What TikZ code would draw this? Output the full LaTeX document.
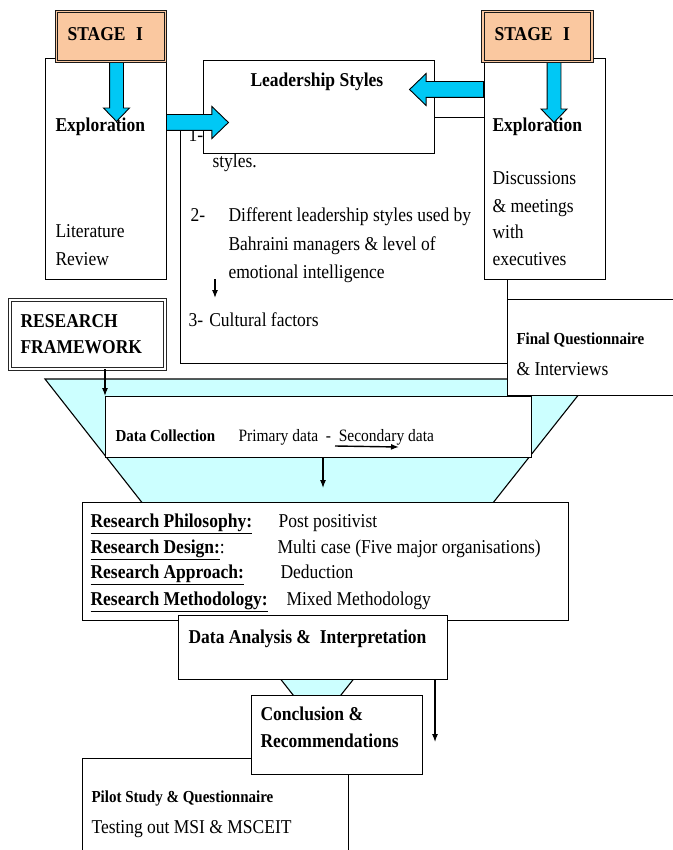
\documentclass[tikz,border=0pt]{standalone}
\usepackage{fontspec}
\setmainfont{Liberation Serif}
\usetikzlibrary{arrows,arrows.meta,shapes,positioning}

\definecolor{peach}{RGB}{250,200,160}
\definecolor{arrowblue}{RGB}{0,200,245}
\definecolor{funnelcyan}{RGB}{204,255,255}

\tikzset{
	>={Latex[length=8pt,width=6pt]},
	box/.style = {
			draw, fill=white, line width=1.1pt,
			anchor=north west, inner sep=0pt,
		},
	stagebox/.style = {
			draw=black!90, double=peach, double distance=1.4pt,
			fill=peach, line width=1pt, inner sep=0pt,
			minimum width=109pt, minimum height=50pt,
		},
	framebox/.style = {
			draw=black!85, double=white, double distance=1.6pt,
			fill=white, line width=0.9pt, inner sep=0pt,
			anchor=north west,
		},
	bluearrow/.style = {
			single arrow, draw=black, fill=arrowblue, line width=0.9pt,
			inner xsep=0pt, anchor=tail, single arrow tip angle=88,
		},
	txt/.style = {anchor=base west, inner sep=0pt, yscale=1.12,
			font=\fontsize{17.5}{21}\selectfont},
	btxt/.style = {txt, font=\fontsize{17.5}{21}\selectfont\bfseries},
	smalltxt/.style = {txt, font=\fontsize{15.5}{18}\selectfont},
	smallbtxt/.style = {txt, font=\fontsize{15}{18}\selectfont\bfseries},
}

\begin{document}
\begin{tikzpicture}[x=1pt,y=-1pt,line width=1.1pt]
			\useasboundingbox (0,0) rectangle (672,850);

			% Stage I - literature
			\node[box, minimum width=121pt, minimum height=221pt] (Exploration left) at (45,58) {};
			\node[btxt] (Exploration left title) at (55,132) {Exploration};
			\node[txt] (Literature) at (55,237) {Literature};
			\node[txt] (Review) at (55,265) {Review};
			\node[bluearrow, rotate=-90, minimum height=59pt, inner ysep=6.5pt,
				single arrow head extend=6pt] (Arrow left) at (116.5,62) {};
			\node[stagebox] (Stage left) at (111,36.5) {};
			\node[btxt] (Stage left text) at (67,41) {STAGE\hspace{0.6em}I};

			% Issues
			\node[box, minimum width=327pt, minimum height=246pt] (Issues) at (180,117) {};
			\node[txt] (Item one) at (188,142) {1-};
			\node[txt] (Item one end) at (212,168) {styles.};
			\node[txt] (Item two) at (190,222) {2-};
			\node[txt] (Item two a) at (228,222) {Different leadership styles used by};
			\node[txt] (Item two b) at (228,250) {Bahraini managers \& level of};
			\node[txt] (Item two c) at (228,278) {emotional intelligence};
			\node[txt] (Item three) at (188,326) {3-\hspace{0.35em}Cultural factors};
			\coordinate (Item arrow top) at (215,279);
			\coordinate (Item arrow end) at (215,298);
			\draw[->,draw=black] (Item arrow top) to (Item arrow end);

			\node[box, minimum width=231pt, minimum height=93pt] (Leadership Styles) at (203,60) {};
			\node[btxt] (Leadership title) at (250,87) {Leadership Styles};
			\node[bluearrow, minimum height=62pt, inner ysep=7.5pt,
				single arrow head extend=8pt] (Arrow to styles) at (166,122.5) {};

			% Stage I - executives
			\node[box, minimum width=121pt, minimum height=221pt] (Exploration right) at (484,58) {};
			\node[btxt] (Exploration right title) at (492,132) {Exploration};
			\node[txt] (Discussions) at (492,185) {Discussions};
			\node[txt] (Meetings) at (492,212) {\& meetings};
			\node[txt] (With) at (492,238) {with};
			\node[txt] (Executives) at (492,265) {executives};
			\node[bluearrow, rotate=-90, minimum height=60pt, inner ysep=6.5pt,
				single arrow head extend=6pt] (Arrow right) at (554,62) {};
			\node[bluearrow, rotate=180, minimum height=74pt, inner ysep=7.5pt,
				single arrow head extend=8pt] (Arrow from right) at (484,89.5) {};
			\node[stagebox] (Stage right) at (537.5,36.5) {};
			\node[btxt] (Stage right text) at (494,41) {STAGE\hspace{0.6em}I};

			% funnel
			\draw[fill=funnelcyan] (45,379) -- (591,379) -- (337,700) -- (297,700) -- cycle;

			\node[box, minimum width=175pt, minimum height=96pt] (Final Questionnaire) at (507,298.5) {};
			\node[smallbtxt] (Final title) at (516,344) {Final Questionnaire};
			\node[txt] (Interviews) at (516,375) {\& Interviews};

			\node[framebox, minimum width=155pt, minimum height=69pt] (Research Framework) at (9.5,299.5) {};
			\node[btxt] (Research) at (20,327) {RESEARCH};
			\node[btxt] (Framework) at (20,353) {FRAMEWORK};

			% data collection
			\node[box, minimum width=426pt, minimum height=61pt] (Data Collection) at (105,396) {};
			\node[smallbtxt] (Collection title) at (115,441) {Data Collection};
			\node[smalltxt] (Data kinds) at (238,441) {Primary data\ \ -\ \ Secondary data};
			\coordinate (Secondary start) at (335,446);
			\coordinate (Secondary end) at (399,447);
			\draw[->,draw=black,line width=1.4pt] (Secondary start) to (Secondary end);
			\draw[->,draw=black] (Research Framework.south -| Data Collection.north west) to (Data Collection.north west);
			\coordinate (Collection arrow end) at (323,488);
			\draw[->,draw=black] (Data Collection.south -| Collection arrow end) to (Collection arrow end);

			% research design
			\node[box, minimum width=486pt, minimum height=118pt] (Research Design) at (82,502) {};
			\node[btxt] (Philosophy) at (90,527) {\underline{Research Philosophy:}};
			\node[txt] (Philosophy value) at (278,527) {Post positivist};
			\node[btxt] (Design) at (90,553) {\underline{Research Design:}\mdseries:};
			\node[txt] (Design value) at (277,553) {Multi case (Five major organisations)};
			\node[btxt] (Approach) at (90,578) {\underline{Research Approach:}};
			\node[txt] (Approach value) at (280,578) {Deduction};
			\node[btxt] (Methodology) at (90,605) {\underline{Research Methodology:}};
			\node[txt] (Methodology value) at (286,605) {Mixed Methodology};

			\node[box, minimum width=269pt, minimum height=64pt] (Data Analysis) at (178,615) {};
			\node[btxt] (Analysis title) at (188,643) {Data Analysis \&\ \ Interpretation};
			\coordinate (Analysis arrow end) at (435,742);
			\draw[->,draw=black] (Data Analysis.south -| Analysis arrow end) to (Analysis arrow end);

			% pilot and conclusion
			\node[box, minimum width=266pt, minimum height=120pt] (Pilot Study) at (82,758) {};
			\node[smallbtxt] (Pilot title) at (91,802) {Pilot Study \& Questionnaire};
			\node[txt] (Testing) at (91,833) {Testing out MSI \& MSCEIT};

			\node[box, minimum width=171pt, minimum height=79pt] (Conclusion) at (251,695) {};
			\node[btxt] (Conclusion a) at (260,720) {Conclusion \&};
			\node[btxt] (Conclusion b) at (260,747) {Recommendations};
		\end{tikzpicture}
\end{document}
